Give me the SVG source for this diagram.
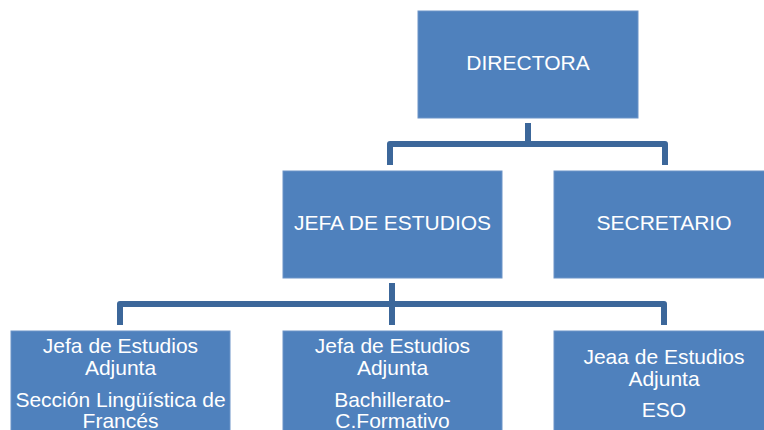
<svg xmlns="http://www.w3.org/2000/svg" width="764" height="430" viewBox="0 0 764 430">
<style>
.box{fill:#4F81BD;stroke:#6C94C8;stroke-width:1}
.t{font-family:"Liberation Sans",Arial,sans-serif;font-size:21px;fill:#FFFFFF;text-anchor:middle}
.c{fill:none;stroke:#3C679A;stroke-width:6;stroke-linejoin:round}
</style>
<rect width="764" height="430" fill="#FFFFFF"/>
<g id="connectors">
<path class="c" d="M528 123 V144 M390 165 V144 H665 V165"/>
<path class="c" d="M392 283 V325 M120 325 V304 H664 V325"/>
</g>
<g id="directora">
<rect class="box" x="418" y="11" width="220" height="107"/>
<text class="t" x="528" y="70">DIRECTORA</text>
</g>
<g id="jefa">
<rect class="box" x="283" y="171" width="219" height="107"/>
<text class="t" x="392.5" y="230">JEFA DE ESTUDIOS</text>
</g>
<g id="secretario">
<rect class="box" x="554" y="171" width="220" height="107"/>
<text class="t" x="664" y="230">SECRETARIO</text>
</g>
<g id="adjunta-frances">
<rect class="box" x="11" y="331" width="219" height="107"/>
<text class="t" x="120.5" y="353">Jefa de Estudios</text>
<text class="t" x="120.5" y="375">Adjunta</text>
<text class="t" x="120.5" y="407">Sección Lingüística de</text>
<text class="t" x="120.5" y="428">Francés</text>
</g>
<g id="adjunta-bach">
<rect class="box" x="283" y="331" width="219" height="107"/>
<text class="t" x="392.5" y="353">Jefa de Estudios</text>
<text class="t" x="392.5" y="375">Adjunta</text>
<text class="t" x="392.5" y="407">Bachillerato-</text>
<text class="t" x="392.5" y="428">C.Formativo</text>
</g>
<g id="adjunta-eso">
<rect class="box" x="554" y="331" width="220" height="107"/>
<text class="t" x="664" y="364">Jeaa de Estudios</text>
<text class="t" x="664" y="386">Adjunta</text>
<text class="t" x="664" y="417">ESO</text>
</g>
</svg>
